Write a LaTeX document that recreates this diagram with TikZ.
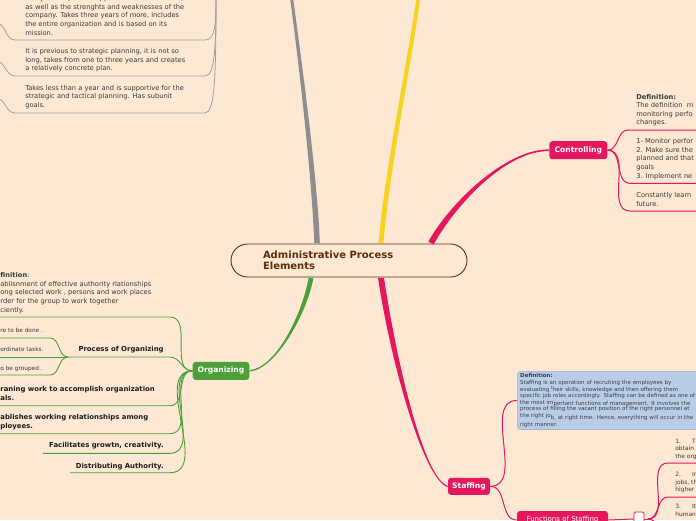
\documentclass[tikz,border=0pt]{standalone}
\usepackage{fontspec}
\setmainfont{DejaVu Sans}
\usetikzlibrary{calc}

\definecolor{bgc}{RGB}{253,232,211}
\definecolor{brownc}{RGB}{92,45,8}
\definecolor{pinkc}{RGB}{229,23,94}
\definecolor{greenc}{RGB}{77,159,58}
\definecolor{greyc}{RGB}{142,142,142}
\definecolor{yellowc}{RGB}{247,210,30}
\definecolor{bluebox}{RGB}{185,205,232}
\definecolor{shadowc}{RGB}{170,165,160}
\definecolor{txtc}{RGB}{58,58,58}
\definecolor{boldc}{RGB}{28,28,28}

% tapered main branch: colour, start, control 1, control 2, end, half width at start, half width at end
\newcommand{\branchfill}[7]{\fill[#1] ($#2+#6$) .. controls ($#3+#6$) and ($#4+#7$) .. ($#5+#7$) -- ($#5-#7$) .. controls ($#4-#7$) and ($#3-#6$) .. ($#2-#6$) -- cycle;}

\tikzset{every picture/.style={line width=0.75pt},
  rootbox/.style={draw=brownc, line width=0.9pt, fill=bgc, rounded corners=16.5pt, minimum width=236pt, minimum height=33pt, text width=172pt, inner xsep=32pt, align=left, text=brownc, font=\fontsize{10}{11.5}\selectfont\bfseries},
  topic/.style={rounded corners=3pt, inner sep=0pt, text=white, font=\fontsize{7.6}{9}\selectfont\bfseries},
  leaf/.style={anchor=base west, inner sep=0pt, align=left, text=txtc, font=\fontsize{6.7}{8.6}\selectfont},
  leafb/.style={leaf, text=boldc, font=\fontsize{6.9}{9}\selectfont\bfseries},
  smallleaf/.style={leaf, text=txtc, font=\fontsize{5.8}{7}\selectfont},
  fleaf/.style={leaf, font=\fontsize{5.9}{7.5}\selectfont},
  pinkline/.style={draw=pinkc, line width=1pt},
  greenline/.style={draw=greenc, line width=0.9pt},
  greyline/.style={draw=greyc!85, line width=0.8pt}
}

\begin{document}
\begin{tikzpicture}[x=1pt,y=1pt,yscale=-1]
\useasboundingbox (0,0) rectangle (696,520);
\fill[bgc] (0,0) rectangle (696,520);
\clip (0,0) rectangle (696,520);

%Central topic
\node[rootbox] (root) at (349,260.5) {Administrative Process\\Elements};

%Main topics
\node[topic, fill=pinkc, minimum width=58pt, minimum height=18pt] (ctrl) at (578.3,150.2) {Controlling};
\node[topic, fill=greenc, minimum width=56.6pt, minimum height=18pt] (org) at (221,370.9) {Organizing};
\node[topic, fill=pinkc, minimum width=42pt, minimum height=17pt] (staff) at (469,486.3) {Staffing};
\node[topic, fill=pinkc, minimum width=91pt, minimum height=18pt, font=\fontsize{7}{8}\selectfont] (func) at (562.5,520) {Functions of Staffing};
\node[draw=pinkc, fill=white, rounded corners=1.5pt, minimum width=10pt, minimum height=14pt, inner sep=0pt, line width=0.8pt] (fold) at (639,519) {};

%Main branches
\coordinate (plan) at (291,-6);
\coordinate (yel) at (419,-6);
\coordinate (gS) at ($(root.north)+(-32,-0.5)$);
\coordinate (yS) at ($(root.north)+(32,-0.5)$);
\coordinate (cS) at ($(root.north)+(82,-0.5)$);
\coordinate (sS) at ($(root.south)+(32,0.5)$);
\coordinate (oS) at ($(root.south)+(-38,0.5)$);
\branchfill{greyc}{(gS)}{(315,180)}{(300,60)}{(plan)}{(2.8,0)}{(1.5,0)}
\branchfill{yellowc}{(yS)}{(387,170)}{(410,60)}{(yel)}{(2.4,0)}{(2,0)}
\branchfill{pinkc}{(cS)}{(452,205)}{(505,150)}{(ctrl.west)}{(2.7,1.3)}{(0,0.8)}
\branchfill{pinkc}{(sS)}{(395,370)}{(425,480)}{(staff.west)}{(3,0)}{(0,-0.7)}
\branchfill{greenc}{(oS)}{(305,312)}{(277,368)}{(org.east)}{(2.4,0)}{(0,0.7)}

%Planning subtopics (parent above the picture)
\coordinate (gp) at (216,-4);
\coordinate (g1) at (205,40);
\coordinate (g2) at (205,76);
\coordinate (g3) at (205,113);
\draw[greyline] (gp) .. controls +(0,30) and +(10,0) .. (g1) -- ++(-190,0) to[out=180,in=0] ++(-19,-17);
\draw[greyline] (gp) .. controls +(0,50) and +(10,0) .. (g2) -- ++(-190,0) to[out=180,in=0] ++(-19,-15);
\draw[greyline] (gp) .. controls +(0,80) and +(10,0) .. (g3) -- ++(-190,0) to[out=180,in=0] ++(-19,-15);
\node[leaf] (gt1) at (25,35) {Analyze competitive opportunities and threats,\\as well as the strenghts and weaknesses of the\\company. Takes three years of more, includes\\the entire organization and is based on its\\mission.};
\node[leaf] (gt2) at (25,70.8) {It is previous to strategic planning, it is not so\\long, takes from one to three years and creates\\a relatively concrete plan.};
\node[leaf] (gt3) at (25,107.5) {Takes less than a year and is supportive for the\\strategic and tactical planning. Has subunit\\goals.};

%Controlling subtopics
\coordinate (c1) at (628,130);
\coordinate (c2) at (630,183.3);
\coordinate (c3) at (630,211);
\draw[pinkline] (ctrl.east) to[out=0,in=180] (c1) -- ++(80,0);
\draw[pinkline] (ctrl.east) to[out=0,in=180] (c2) -- ++(80,0);
\draw[pinkline] (ctrl.east) to[out=0,in=180] (c3) -- ++(80,0);
\node[leaf] (ct1) at (636,124.9) {\textbf{Definition:}\\The definition\ \ m\\monitoring perfo\\changes.};
\node[leaf] (ct2) at (636,178) {1- Monitor perfor\\2. Make sure the\\planned and that\\goals\\3. Implement ne};
\node[leaf] (ct3) at (636,206.1) {Constantly learn\\future.};

%Organizing subtopics
\coordinate (o1) at (170,317);
\coordinate (o2) at (170,357);
\coordinate (o3) at (170,405.7);
\coordinate (o4) at (170,433.7);
\coordinate (o5) at (170,453.3);
\coordinate (o6) at (170,472.7);
\draw[greenline] (org.west) to[out=180,in=0] (o1) -- ++(-175,0);
\draw[greenline] (org.west) to[out=180,in=0] (o2) -- ++(-102,0) coordinate (p0);
\draw[greenline] (org.west) to[out=180,in=0] (o3) -- ++(-175,0);
\draw[greenline] (org.west) to[out=180,in=0] (o4) -- ++(-175,0);
\draw[greenline] (org.west) to[out=180,in=0] (o5) -- ++(-127,0);
\draw[greenline] (org.west) to[out=180,in=0] (o6) -- ++(-100,0);
\coordinate (p1) at (50,338);
\coordinate (p3) at (50,375);
\draw[greenline] (p0) to[out=180,in=0] (p1) -- ++(-55,0);
\draw[greenline] (p0) -- ++(-75,0);
\draw[greenline] (p0) to[out=180,in=0] (p3) -- ++(-55,0);
\node[leaf] (od) at (0,312) {\textbf{finition}:\\ablisnment of effective authority rlationships\\ong selected work , persons and work places\\rder for the group to work together\\ciently.};
\node[leafb, anchor=base east] (proc) at (164,351.5) {Process of Organizing};
\node[smallleaf] (pr1) at (0,332.8) {re to be done .};
\node[smallleaf] (pr2) at (0,351.8) {ordinate tasks.};
\node[smallleaf] (pr3) at (0,370.2) {o be grouped .};
\node[leafb] (ob1) at (0,400.5) {raning work to accomplish organization\\als.};
\node[leafb] (ob2) at (0,428.5) {ablishes working relationships among\\ployees.};
\node[leafb, anchor=base east] (ob3) at (164,447.6) {Facilitates growtn, creativity.};
\node[leafb, anchor=base east] (ob4) at (164,468) {Distributing Authority.};

%Staffing subtopics
\fill[shadowc] (518.5,373) [rounded corners=4pt] rectangle (720,429);
\node[draw=bluebox!80!black, line width=0.4pt, fill=bluebox, rounded corners=4pt, anchor=north west, text width=190pt, inner xsep=3pt, inner ysep=2.5pt, align=left, text=boldc!85, font=\fontsize{5.5}{6.6}\selectfont] (sdef) at (517,371) {\textbf{Definition:}\\
Staffing is an operation of recruiting the employees by\\
evaluating \raisebox{1.3pt}{\fontsize{4.4}{5}\selectfont t}heir skills, knowledge and then offering them\\
specific job roles accordingly. Staffing can be defined as one of\\
the most im\raisebox{-1.2pt}{portant functions of management. It involves the}\\
process of filling the vacant position of the right personnel at\\
the right jo\raisebox{-2.2pt}{b, at right time. Hence, everything will occur in the}\\
right manner.};
\draw[pinkline] (staff.east) to[out=0,in=180] (sdef.west);
\draw[pinkline] (staff.east) to[out=0,in=180] (func.west);
\draw[pinkline] (func.east) -- (fold.west);
\coordinate (fj) at (648,519);
\coordinate (f1) at (668,463);
\coordinate (f2) at (668,497);
\coordinate (f3) at (668,532);
\draw[pinkline] (fold.east) -- (fj);
\draw[pinkline] (fj) to[out=0,in=180] (f1) -- ++(40,0);
\draw[pinkline] (fj) to[out=0,in=180] (f2) -- ++(40,0);
\draw[pinkline] (fj) to[out=0,in=180] (f3) -- ++(40,0);
\node[fleaf] (fs1) at (675,458) {1.\hspace{11pt}Th\\obtain\\the org};
\node[fleaf] (fs2) at (675,491.6) {2.\hspace{11pt}In\\jobs, th\\higher};
\node[fleaf] (fs3) at (675,516.1) {3.\hspace{11pt}It\\human};

\end{tikzpicture}
\end{document}
